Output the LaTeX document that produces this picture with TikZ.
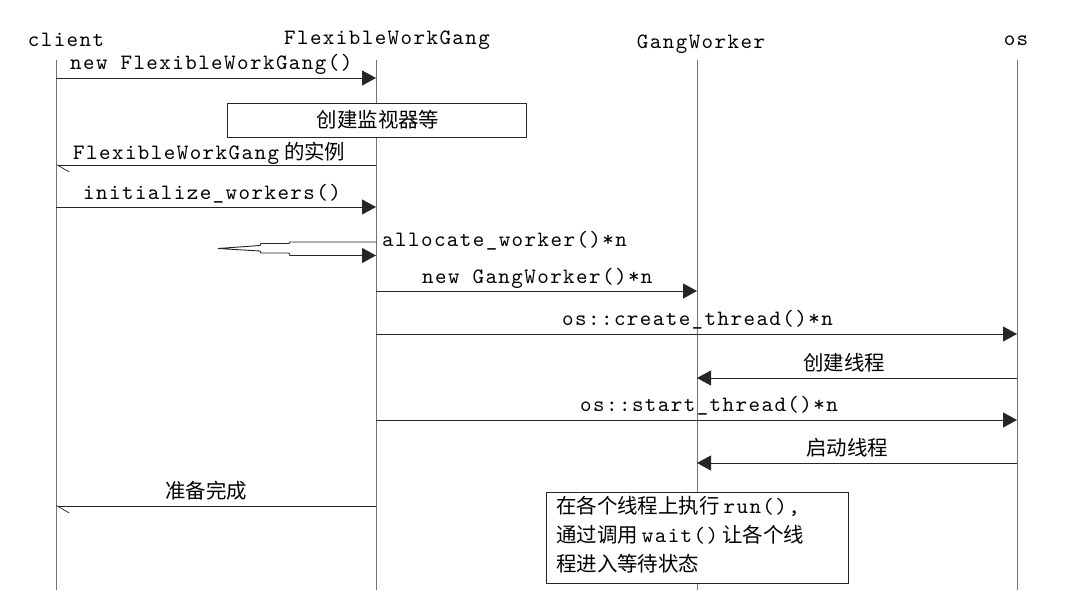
\documentclass[tikz,border=0pt]{standalone}
\usepackage{fontspec}
\newfontfamily\mono{lmmono10-regular.otf}[LetterSpace=6.6]
\newfontfamily\cjk{Noto Sans CJK SC}
\usetikzlibrary{arrows.meta}
\begin{document}
\begin{tikzpicture}[x=1bp,y=-1bp,
  lifeline/.style={draw=black!55, line width=0.9bp},
  msg/.style={draw=black!85, line width=0.9bp, -{Triangle[length=14bp,width=15bp]}},
  ret/.style={draw=black!85, line width=0.9bp, -{Straight Barb[left,length=12bp,width=14bp,line width=0.7bp]}},
  hdr/.style={font=\mono\fontsize{22}{24}\selectfont, inner sep=0pt, anchor=base},
  lbl/.style={font=\mono\fontsize{22}{24}\selectfont, inner sep=0pt, anchor=base west},
  clbl/.style={font=\cjk\fontsize{20.5}{24}\selectfont, inner sep=0pt, anchor=base west},
  box/.style={draw=black!85, fill=white, line width=0.9bp}]
\useasboundingbox (0,0) rectangle (1080,610);
\fill[white] (0,0) rectangle (1080,610);

% headers
\node[hdr] (hc) at (66,47) {client};
\node[hdr] (hf) at (387,45) {FlexibleWorkGang};
\node[hdr] (hg) at (701,49) {GangWorker};
\node[hdr] (ho) at (1016,46) {os};

% lifelines
\coordinate (cT) at (56,60);  \coordinate (cB) at (56,590);
\coordinate (fT) at (376,60); \coordinate (fB) at (376,590);
\coordinate (gT) at (697,60); \coordinate (gB) at (697,590);
\coordinate (oT) at (1017,60); \coordinate (oB) at (1017,590);
\draw[lifeline] (cT) -- (cB);
\draw[lifeline] (fT) -- (fB);
\draw[lifeline] (gT) -- (gB);
\draw[lifeline] (oT) -- (oB);

% 1 new FlexibleWorkGang()
\coordinate (c1) at (56,78); \coordinate (f1) at (376,78);
\draw[msg] (c1) -- (f1);
\node[lbl] (l1) at (70,70) {new FlexibleWorkGang()};

% box
\node[box, minimum width=299bp, minimum height=34bp, inner sep=0pt] (mon) at (376.5,120) {};
\node[clbl, anchor=base] (monl) at (378,128) {创建监视器等};

% 2 return instance
\coordinate (f2) at (376,165); \coordinate (c2) at (56,165);
\draw[ret] (f2) -- (c2);
\node[lbl] (l2) at (73,160) {FlexibleWorkGang\hspace{5bp}{\cjk\fontsize{20.5}{24}\selectfont 的实例}};

% 3 initialize_workers()
\coordinate (c3) at (56,207); \coordinate (f3) at (376,207);
\draw[msg] (c3) -- (f3);
\node[lbl] (l3) at (83,200) {initialize\_workers()};

% 4 self call allocate_worker
\coordinate (sa) at (376,242); \coordinate (sb) at (376,255.5);
\draw[msg] (sa) -- (290,242) -- (289,243.5) -- (261,243.5) -- (260,245.5) -- (218,248.5)
  -- (260,251) -- (261,253) -- (289,253) -- (290,255.5) -- (sb);
\node[lbl] (l4) at (382,247) {allocate\_worker()*n};

% 5 new GangWorker()*n
\coordinate (f5) at (376,291); \coordinate (g5) at (697,291);
\draw[msg] (f5) -- (g5);
\node[lbl] (l5) at (422,284) {new GangWorker()*n};

% 6 os::create_thread()*n
\coordinate (f6) at (376,334); \coordinate (o6) at (1017,334);
\draw[msg] (f6) -- (o6);
\node[lbl] (l6) at (562,325) {os::create\_thread()*n};

% 7 创建线程
\coordinate (o7) at (1017,378); \coordinate (g7) at (697,378);
\draw[msg] (o7) -- (g7);
\node[clbl] (l7) at (803,370) {创建线程};

% 8 os::start_thread()*n
\coordinate (f8) at (376,420); \coordinate (o8) at (1017,420);
\draw[msg] (f8) -- (o8);
\node[lbl] (l8) at (580,411) {os::start\_thread()*n};

% 9 启动线程
\coordinate (o9) at (1017,463); \coordinate (g9) at (697,463);
\draw[msg] (o9) -- (g9);
\node[clbl] (l9) at (806,455) {启动线程};

% 10 准备完成
\coordinate (f10) at (376,506); \coordinate (c10) at (56,506);
\draw[ret] (f10) -- (c10);
\node[clbl] (l10) at (165,498) {准备完成};

% note
\node[box, minimum width=302bp, minimum height=91bp, inner sep=0pt, anchor=north west] (note) at (546,492) {};
\node[anchor=north west, align=left, inner sep=0pt,
      font=\cjk\fontsize{20.5}{29}\selectfont] (notetxt) at (556,496)
  {在各个线程上执行\hspace{4bp}{\mono\fontsize{22}{29}\selectfont run(),}\\
   通过调用\hspace{4bp}{\mono\fontsize{22}{29}\selectfont wait()}\hspace{4bp}让各个线\\
   程进入等待状态};
\end{tikzpicture}
\end{document}
